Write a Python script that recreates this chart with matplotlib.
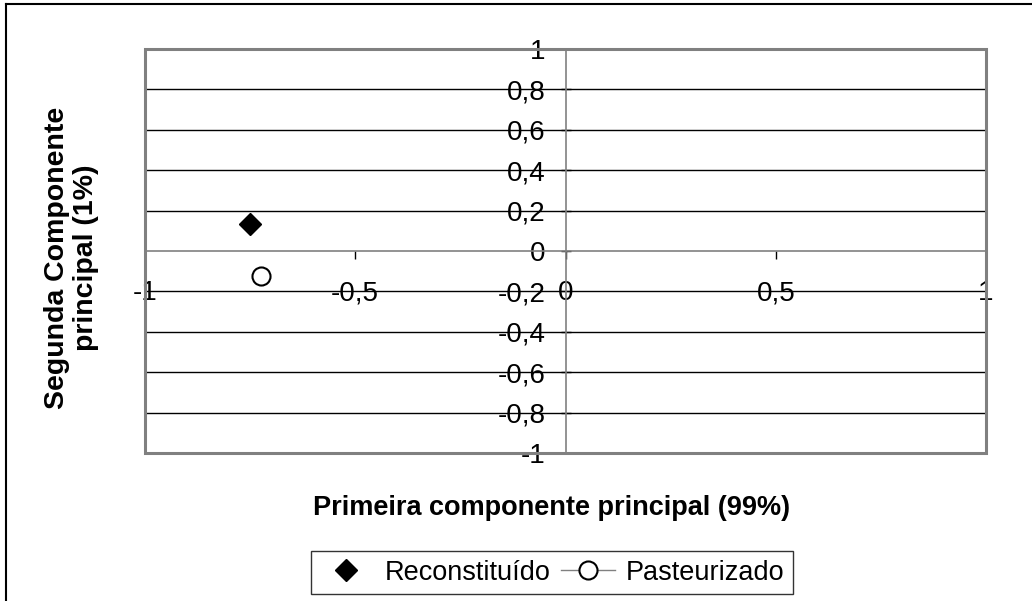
import matplotlib
matplotlib.use("Agg")
import matplotlib.pyplot as plt
from matplotlib.lines import Line2D
from matplotlib.patches import Rectangle

# Data
series_names = ["Reconstituído", "Pasteurizado"]
reconst_x = [-0.75]
reconst_y = [0.135]
pasteur_x = [-0.724]
pasteur_y = [-0.122]
yticks = [-1, -0.8, -0.6, -0.4, -0.2, 0, 0.2, 0.4, 0.6, 0.8, 1]
ytick_labels = ["-1", "-0,8", "-0,6", "-0,4", "-0,2", "0", "0,2", "0,4", "0,6", "0,8", "1"]
xticks = [-1, -0.5, 0, 0.5, 1]
xtick_labels = ["-1", "-0,5", "0", "0,5", "1"]
xlabel = "Primeira componente principal (99%)"
ylabel = "Segunda Componente\nprincipal (1%)"

plt.rcParams['font.family'] = ['Liberation Sans', 'DejaVu Sans']

W, H = 1032, 601
fig = plt.figure(figsize=(W / 100, H / 100), dpi=100)
ax = fig.add_axes([145 / W, 1 - 453 / H, (986 - 145) / W, (453 - 49) / H])
ax.set_xlim(-1, 1)
ax.set_ylim(-1, 1)

# grid lines
for yv in yticks:
    if yv != 0:
        ax.axhline(yv, color='black', lw=1, zorder=1)

# spines crossing at 0
for s in ['top', 'right']:
    ax.spines[s].set_visible(False)
ax.spines['left'].set_position(('data', 0))
ax.spines['bottom'].set_position(('data', 0))
ax.spines['left'].set_color('#808080')
ax.spines['bottom'].set_color('#808080')
ax.spines['left'].set_linewidth(1.2)
ax.spines['bottom'].set_linewidth(1.2)

ax.add_patch(Rectangle((0, 0), 1, 1, transform=ax.transAxes, fill=False,
                       edgecolor='#808080', lw=2.2, clip_on=False, zorder=5))

ax.set_yticks(yticks)
ax.set_yticklabels(ytick_labels)
ax.set_xticks(xticks)
ax.set_xticklabels(xtick_labels)
ax.tick_params(axis='y', direction='inout', length=7, width=1, color='black',
               labelsize=20, pad=11)
ax.tick_params(axis='x', direction='out', length=6, width=1, color='black',
               labelsize=20, pad=15)

ax.plot(reconst_x, reconst_y, linestyle='none', marker='D', markersize=11,
        color='black', label=series_names[0], zorder=6, clip_on=False)
ax.plot(pasteur_x, pasteur_y, linestyle='-', color='#808080', lw=1, marker='o',
        markersize=13, markerfacecolor='white', markeredgecolor='black',
        markeredgewidth=1.5, label=series_names[1], zorder=6, clip_on=False)

fig.text(552 / W, 1 - 508 / H, xlabel, ha='center', va='center',
         fontsize=19.5, fontweight='bold')
fig.text(71.5 / W, 1 - 258 / H, ylabel, ha='center', va='center',
         rotation=90, fontsize=20.5, fontweight='bold', multialignment='center',
         linespacing=1.12)

leg = fig.legend(loc='center', bbox_to_anchor=(552 / W, 1 - 572.5 / H), ncol=2,
                 fontsize=19.5, frameon=True, fancybox=False, edgecolor='black',
                 handlelength=2.0, handletextpad=0.4, columnspacing=0.4,
                 borderpad=0.3)
leg.get_frame().set_linewidth(1)

# figure border (partial, as in reference)
fig.add_artist(Line2D([6 / W, 6 / W], [0, 1 - 4 / H], transform=fig.transFigure,
                      color='black', lw=1.5))
fig.add_artist(Line2D([6 / W, 1], [1 - 4 / H, 1 - 4 / H], transform=fig.transFigure,
                      color='black', lw=1.5))

fig.savefig('out.png', dpi=100)
